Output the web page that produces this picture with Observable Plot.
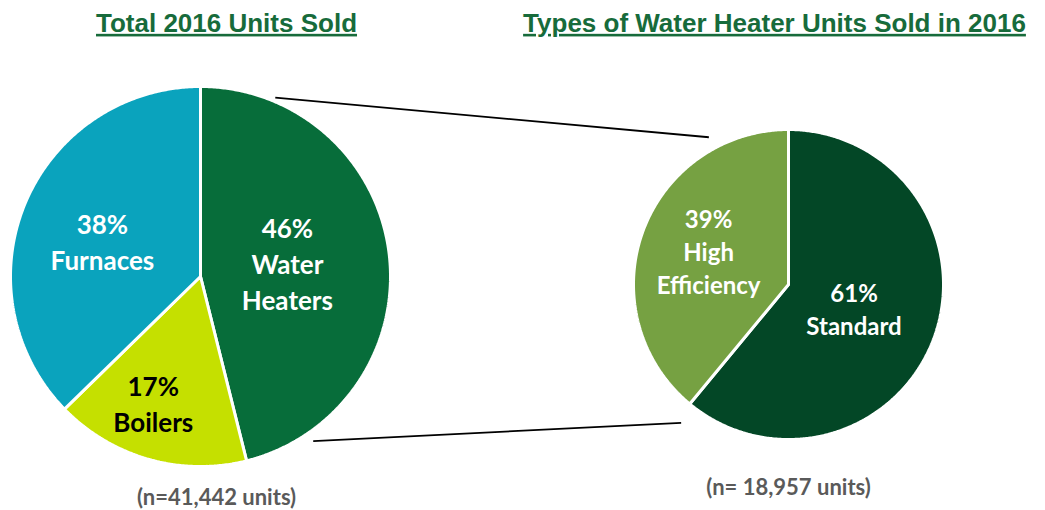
<!DOCTYPE html>
<html>
<head>
<meta charset="utf-8">
<script src="https://cdn.jsdelivr.net/npm/d3@7"></script>
<script src="https://cdn.jsdelivr.net/npm/@observablehq/plot@0.6"></script>
<style>
  html, body { margin: 0; padding: 0; background: #fff; }
  #chart svg { display: block; }
</style>
</head>
<body>
<div id="chart"></div>
<script>
// ---- data ----
const totalCategories = ["Water Heaters", "Boilers", "Furnaces"];
const totalShares = [46.1, 16.6, 37.3];   // slice sizes
const totalLabels = ["46%\nWater\nHeaters", "17%\nBoilers", "38%\nFurnaces"];
const totalN = "(n=41,442 units)";
const totalTitle = "Total 2016 Units Sold";

const whCategories = ["Standard", "High Efficiency"];
const whShares = [61, 39];
const whLabels = ["61%\nStandard", "39%\nHigh\nEfficiency"];
const whN = "(n= 18,957 units)";
const whTitle = "Types of Water Heater Units Sold in 2016";

// ---- styles / layout ----
const totalColors = ["#076d3a", "#c5e000", "#0aa3bd"];
const totalTextColors = ["#ffffff", "#000000", "#ffffff"];
const whColors = ["#034726", "#76a142"];
const W = 1045, H = 510;
const leftPie = {cx: 200, cy: 276, r: 190};
const rightPie = {cx: 788, cy: 284, r: 155};
// label placement (angle deg clockwise from 12 o'clock, radius fraction)
const totalLabelPos = [[81, 0.463], [200.5, 0.71], [290.2, 0.55]];
const whLabelPos = [[110, 0.45], [293, 0.56]];

function slices(cats, vals, pie, prefix) {
  const total = d3.sum(vals);
  const pts = [];
  let acc = 0;
  cats.forEach((c, i) => {
    const a0 = acc / total * 2 * Math.PI;
    acc += vals[i];
    const a1 = acc / total * 2 * Math.PI;
    const key = prefix + c;
    pts.push({key, x: pie.cx, y: pie.cy});
    const n = Math.max(2, Math.ceil((a1 - a0) / (Math.PI / 360)));
    for (let k = 0; k <= n; k++) {
      const a = a0 + (a1 - a0) * k / n;
      pts.push({key, x: pie.cx + pie.r * Math.sin(a), y: pie.cy - pie.r * Math.cos(a)});
    }
    pts.push({key, x: pie.cx, y: pie.cy});
  });
  return pts;
}
function polar(pie, deg, frac) {
  const a = deg * Math.PI / 180;
  return {x: pie.cx + pie.r * frac * Math.sin(a), y: pie.cy - pie.r * frac * Math.cos(a)};
}

const slicePts = [
  ...slices(totalCategories, totalShares, leftPie, "L:"),
  ...slices(whCategories, whShares, rightPie, "R:")
];
const colorDomain = [...totalCategories.map(c => "L:" + c), ...whCategories.map(c => "R:" + c)];
const colorRange = [...totalColors, ...whColors];

const leftLabelData = totalLabels.map((t, i) => ({text: t, color: totalTextColors[i], ...polar(leftPie, ...totalLabelPos[i])}));
const rightLabelData = whLabels.map((t, i) => ({text: t, color: "#ffffff", ...polar(rightPie, ...whLabelPos[i])}));

// connector lines between the pies
const connectors = [
  {a: polar(leftPie, 22.7, 1.02), b: polar(rightPie, 331.6, 1.08)},
  {a: polar(leftPie, 145.6, 1.05), b: polar(rightPie, 217.8, 1.13)}
];

const titles = [
  {text: totalTitle, x: 226, y: 23},
  {text: whTitle, x: 774, y: 23}
];
const notes = [
  {text: totalN, x: 216, y: 497},
  {text: whN, x: 788, y: 487}
];

const chart = Plot.plot({
  width: W, height: H,
  margin: 0,
  x: {domain: [0, W], range: [0, W], axis: null},
  y: {domain: [0, H], range: [0, H], axis: null},
  color: {domain: colorDomain, range: colorRange},
  marks: [
    Plot.link(connectors, {
      x1: d => d.a.x, y1: d => d.a.y, x2: d => d.b.x, y2: d => d.b.y,
      stroke: "#000", strokeWidth: 1.8
    }),
    Plot.line(slicePts, {
      x: "x", y: "y", z: "key", fill: "key",
      stroke: "#fff", strokeWidth: 3, strokeLinejoin: "miter", curve: "linear"
    }),
    Plot.text(leftLabelData, {
      x: "x", y: "y", text: "text", fill: d => d.color, fontSize: 26,
      fontWeight: "bold", fontFamily: "Lato", lineHeight: 1.38, lineAnchor: "middle"
    }),
    Plot.text(rightLabelData, {
      x: "x", y: "y", text: "text", fill: d => d.color, fontSize: 24,
      fontWeight: "bold", fontFamily: "Lato", lineHeight: 1.36, lineAnchor: "middle"
    }),
    Plot.text(titles, {
      x: "x", y: "y", text: "text", fill: "#176b3b", fontSize: 26,
      fontWeight: "bold", fontFamily: "Liberation Sans", lineAnchor: "middle"
    }),
    Plot.text(notes, {
      x: "x", y: "y", text: "text", fill: "#5a5a5a", fontSize: 22,
      fontWeight: "bold", fontFamily: "Lato", lineAnchor: "middle"
    })
  ]
});
chart.querySelectorAll("text").forEach(t => {
  if (t.textContent === totalTitle || t.textContent === whTitle) {
    t.setAttribute("text-decoration", "underline");
  }
});
document.getElementById("chart").appendChild(chart);
</script>
</body>
</html>
